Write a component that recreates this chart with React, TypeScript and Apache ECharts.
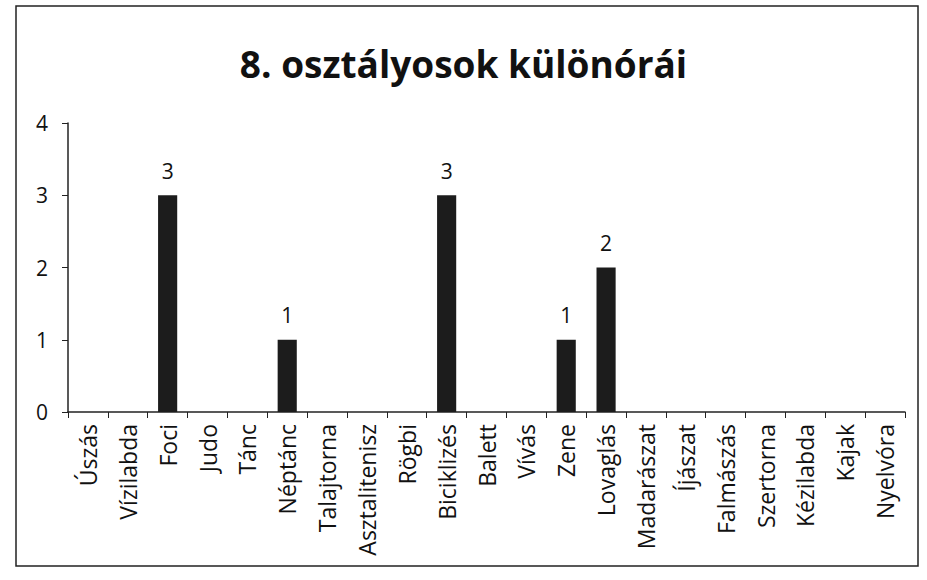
import React, { useEffect, useRef } from "react";
import * as echarts from "echarts";

const categories = ["Úszás", "Vízilabda", "Foci", "Judo", "Tánc", "Néptánc", "Talajtorna", "Asztalitenisz", "Rögbi", "Biciklizés", "Balett", "Vívás", "Zene", "Lovaglás", "Madarászat", "Íjászat", "Falmászás", "Szertorna", "Kézilabda", "Kajak", "Nyelvóra"];
const values = [0, 0, 3, 0, 0, 1, 0, 0, 0, 3, 0, 0, 1, 2, 0, 0, 0, 0, 0, 0, 0];
const title = "8. osztályosok különórái";

export default function App() {
  const ref = useRef<HTMLDivElement>(null);
  useEffect(() => {
    const chart = echarts.init(ref.current!, null, { renderer: "svg" });
    const font = "'Open Sans', sans-serif";
    chart.setOption({
      animation: false,
      backgroundColor: "#ffffff",
      title: {
        text: title,
        left: "center",
        top: 40,
        textStyle: { fontFamily: font, fontSize: 37, fontWeight: "bold", color: "#111" },
      },
      graphic: [
        {
          type: "rect",
          shape: { x: 16, y: 6, width: 902, height: 560 },
          style: { fill: "none", stroke: "#222", lineWidth: 1.5 },
        },
      ],
      grid: { left: 68, right: 22, top: 123, bottom: 168, containLabel: false },
      xAxis: {
        type: "category",
        data: categories,
        axisLine: { lineStyle: { color: "#222", width: 1.5 } },
        axisTick: { show: true, alignWithLabel: false, length: 6, lineStyle: { color: "#222" } },
        axisLabel: { rotate: 90, interval: 0, fontFamily: font, fontSize: 23, color: "#111", margin: 12 },
      },
      yAxis: {
        type: "value",
        min: 0,
        max: 4,
        interval: 1,
        splitLine: { show: false },
        axisLine: { show: true, lineStyle: { color: "#222", width: 1.5 } },
        axisTick: { show: true, length: 6, lineStyle: { color: "#222" } },
        axisLabel: { fontFamily: font, fontSize: 21, color: "#111", margin: 20 },
      },
      series: [
        {
          type: "bar",
          data: values.map((v) => (v === 0 ? { value: v, label: { show: false } } : v)),
          barWidth: "48%",
          itemStyle: { color: "#1c1c1c" },
          label: { show: true, position: "top", distance: 14, fontFamily: font, fontSize: 21, color: "#111" },
        },
      ],
    });
    return () => chart.dispose();
  }, []);
  return <div ref={ref} style={{ position: "fixed", left: 0, top: 0, width: 927, height: 580 }} />;
}
